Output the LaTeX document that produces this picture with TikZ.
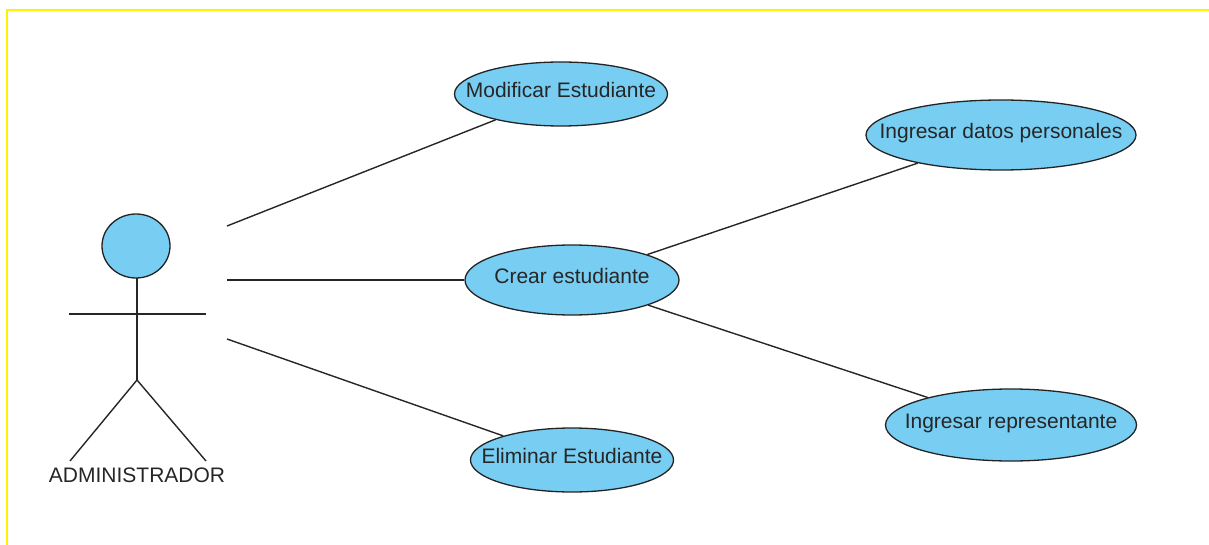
\documentclass[tikz,border=0pt]{standalone}
\usepackage{fontspec}
\setmainfont{Liberation Sans}
\usetikzlibrary{shapes.geometric}
\definecolor{ucfill}{RGB}{120,206,242}
\definecolor{ucline}{RGB}{35,35,35}
\newcommand{\uctext}[1]{\makebox[0pt]{#1}}
\tikzset{
  usecase/.style={ellipse, draw=ucline, fill=ucfill, line width=1.3pt, inner sep=0pt,
    text height=0.72em, text depth=0pt,
    font=\fontsize{21}{25}\selectfont, text=black!85},
  assoc/.style={draw=black!85, line width=1.4pt},
  stick/.style={draw=black!85, line width=1.4pt},
}
\begin{document}
\begin{tikzpicture}[x=1pt, y=-1pt]
  \useasboundingbox (0,0) rectangle (1209,545);
  \draw[yellow, line width=2.5pt] (1209,10) -- (7,10) -- (7,545);

  % actor
  \draw[stick] (137,278) -- (137,380);
  \draw[stick] (69,314) -- (206,314);
  \draw[stick] (70,461) -- (137,380) -- (206,461);
  \draw[fill=ucfill, draw=ucline, line width=1.3pt] (136,246) ellipse[x radius=34pt, y radius=32pt];
  \node[font=\fontsize{21}{25}\selectfont, text=black!85] (admin) at (137,475) {ADMINISTRADOR};

  \coordinate (aUp) at (227,226);
  \coordinate (aMid) at (227,280);
  \coordinate (aLow) at (227,339);

  % use cases
  \node[usecase, minimum width=213pt, minimum height=64pt] (mod) at (561,94) {\uctext{Modificar Estudiante}};
  \node[usecase, minimum width=214pt, minimum height=70pt] (crear) at (572,280) {\uctext{Crear estudiante}};
  \node[usecase, minimum width=203pt, minimum height=64pt] (elim) at (572,460) {\uctext{Eliminar Estudiante}};
  \node[usecase, minimum width=270pt, minimum height=70pt] (datos) at (1001,135) {\uctext{Ingresar datos personales}};
  \node[usecase, minimum width=251pt, minimum height=72pt] (repr) at (1011,425) {\uctext{Ingresar representante}};

  \draw[assoc] (aUp) -- (mod);
  \draw[assoc] (aMid) -- (crear);
  \draw[assoc] (aLow) -- (elim);
  \draw[assoc] (crear) -- (datos);
  \draw[assoc] (crear) -- (repr);
\end{tikzpicture}
\end{document}
